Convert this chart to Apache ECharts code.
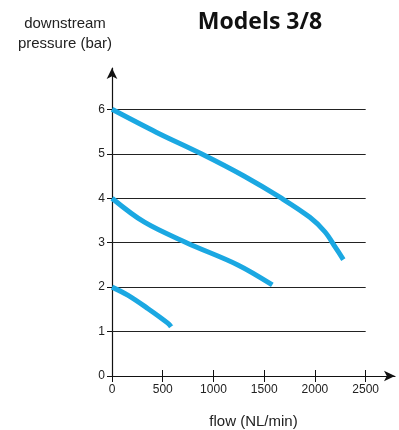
<!DOCTYPE html>
<html><head><meta charset="utf-8">
<script src="https://cdn.jsdelivr.net/npm/echarts@6/dist/echarts.min.js"></script>
<style>html,body{margin:0;padding:0;background:#fff}#c{width:399px;height:430px}</style>
</head><body><div id="c"></div>
<script>
const xTicks = [0, 500, 1000, 1500, 2000, 2500];
const yTicks = [0, 1, 2, 3, 4, 5, 6];
const curve6bar = [[0,6],[440,5.48],[880,5],[1300,4.5],[1670,4],[1950,3.57],[2100,3.24],[2200,2.9],[2280,2.62]];
const curve4bar = [[0,4],[320,3.46],[734,3],[1240,2.5],[1580,2.05]];
const curve2bar = [[0,2],[155,1.82],[352,1.52],[550,1.19],[582,1.11]];
const gridLevels = [1, 2, 3, 4, 5, 6];

const sans = '"Liberation Sans", Arial, sans-serif';
const blue = '#1ba8e2';
const chart = echarts.init(document.getElementById('c'));
const lineSeries = (d) => ({
  type: 'line', data: d, smooth: 0.35, symbol: 'none',
  lineStyle: { color: blue, width: 5 }, z: 3
});
const s0 = lineSeries(curve6bar);
s0.markLine = {
  silent: true, symbol: 'none', label: { show: false },
  lineStyle: { color: '#222', width: 1.2, type: 'solid' },
  data: gridLevels.map(v => [{ coord: [0, v] }, { coord: [2500, v] }]),
  z: 1
};
chart.setOption({
  animation: false,
  title: [
    { text: 'Models 3/8', left: 260, top: 11, padding: 0, textAlign: 'center',
      textStyle: { fontFamily: '"Open Sans", sans-serif', fontWeight: 'bold', fontSize: 23, color: '#111' } },
    { text: 'downstream\npressure (bar)', left: 65, top: 14, padding: 0, textAlign: 'center',
      textStyle: { fontFamily: sans, fontWeight: 'normal', fontSize: 15, lineHeight: 20, color: '#222' } }
  ],
  grid: { left: 112, right: 4, top: 68, bottom: 54, containLabel: false, outerBoundsMode: 'none' },
  xAxis: [{
    type: 'value', min: 0, max: 2789,
    name: 'flow (NL/min)', nameLocation: 'middle', nameGap: 38,
    nameTextStyle: { fontFamily: sans, fontSize: 15, color: '#222' },
    axisLine: { lineStyle: { color: '#111', width: 1.2 }, symbol: ['none', 'arrow'], symbolSize: [8, 11] },
    axisTick: { show: true, length: 6, customValues: xTicks, lineStyle: { color: '#111' } },
    axisLabel: { customValues: xTicks, margin: 8, fontFamily: sans, fontSize: 12, color: '#222',
      formatter: v => String(v) },
    splitLine: { show: false }
  }, {
    type: 'value', min: 0, max: 2789, position: 'bottom',
    axisLine: { show: false },
    axisTick: { show: true, inside: true, length: 6, customValues: xTicks, lineStyle: { color: '#111' } },
    axisLabel: { show: false }, splitLine: { show: false }
  }],
  yAxis: {
    type: 'value', min: 0, max: 6.93,
    axisLine: { show: true, lineStyle: { color: '#111', width: 1.2 }, symbol: ['none', 'arrow'], symbolSize: [8, 11] },
    axisTick: { show: true, length: 5, customValues: yTicks, lineStyle: { color: '#111' } },
    axisLabel: { customValues: yTicks, margin: 7, fontFamily: sans, fontSize: 12, color: '#222',
      formatter: v => String(v) },
    splitLine: { show: false }
  },
  series: [s0, lineSeries(curve4bar), lineSeries(curve2bar)]
});
</script></body></html>
